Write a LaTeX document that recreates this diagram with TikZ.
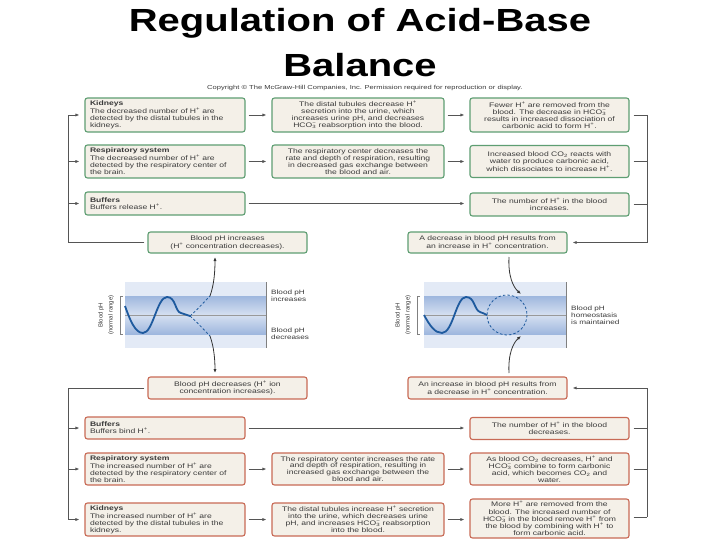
\documentclass[tikz,border=0pt]{standalone}
\usepackage{fontspec}
\setmainfont[FakeStretch=1.3]{Liberation Sans}
\newfontfamily\titlefont[FakeStretch=1.25]{Liberation Sans}
\newfontfamily\plainfont{Liberation Sans}
\usetikzlibrary{arrows.meta}
\definecolor{boxfill}{HTML}{F4F0E8}
\definecolor{gborder}{HTML}{5E9E72}
\definecolor{rborder}{HTML}{C86A55}
\definecolor{txt}{HTML}{3A3A3A}
\definecolor{linec}{HTML}{555555}
\definecolor{chartbg}{HTML}{E3EAF6}
\definecolor{banddark}{HTML}{9EB7DE}
\definecolor{bandlight}{HTML}{D6E0F1}
\definecolor{wavec}{HTML}{1E5A9E}
\newcommand\Hplus{H\textsuperscript{+}}
\newcommand\HCOminus{HCO\rlap{\textsubscript{3}}\textsuperscript{−}}
\tikzset{
  box/.style={draw, line width=1.1pt, rounded corners=2.5pt, fill=boxfill, text=txt,
    font=\fontsize{6.6}{6.9}\selectfont, inner xsep=5pt, inner ysep=2pt},
  gbox/.style={box, draw=gborder},
  rbox/.style={box, draw=rborder},
  leftbox/.style={text width=150pt, align=left},
  midbox/.style={align=center, minimum width=172pt},
  rightbox/.style={align=center, minimum width=159pt},
  cenbox/.style={align=center, minimum width=159pt},
  ln/.style={draw=linec, line width=0.8pt},
  arr/.style={ln, -{Latex[length=4pt,width=3.2pt]}},
  carr/.style={draw=black!80, line width=0.8pt, -{Latex[length=4pt,width=3.2pt]}},
  wave/.style={draw=wavec, line width=1.8pt},
  wdash/.style={draw=wavec, line width=0.8pt, dash pattern=on 2.5pt off 2pt},
  lbl/.style={text=txt, font=\fontsize{6.3}{7}\selectfont, align=left, inner sep=0pt},
  rot/.style={text=txt, font=\plainfont\fontsize{6}{10}\selectfont, align=center, rotate=90, inner sep=0pt},
}
\begin{document}
\begin{tikzpicture}[x=1pt,y=-1pt]
\fill[white] (0,0) rectangle (720,540);
\useasboundingbox (0,0) rectangle (720,540);

% title
\node[font=\titlefont\bfseries\fontsize{32}{36}\selectfont, anchor=base, inner sep=0] (t1) at (360,32) {Regulation of Acid-Base};
\node[font=\titlefont\bfseries\fontsize{32}{36}\selectfont, anchor=base, inner sep=0] (t2) at (360,77) {Balance};
\node[font=\fontsize{5.8}{6}\selectfont, anchor=west, text=txt, inner sep=0] (cp) at (207,88) {Copyright © The McGraw-Hill Companies, Inc. Permission required for reproduction or display.};

% ---------- top section ----------
\node[gbox, leftbox, minimum height=34pt] (k1) at (165,115) {\textbf{Kidneys}\\The decreased number of \Hplus{} are\\detected by the distal tubules in the\\kidneys.};
\node[gbox, midbox, minimum height=34pt] (d1) at (358,115) {The distal tubules decrease \Hplus\\secretion into the urine, which\\increases urine pH, and decreases\\\HCOminus{} reabsorption into the blood.};
\node[gbox, rightbox, minimum height=34pt] (f1) at (549.5,115) {Fewer \Hplus{} are removed from the\\blood. The decrease in \HCOminus\\results in increased dissociation of\\carbonic acid to form \Hplus.};

\node[gbox, leftbox, minimum height=33pt] (r1) at (165,161.5) {\textbf{Respiratory system}\\The decreased number of \Hplus{} are\\detected by the respiratory center of\\the brain.};
\node[gbox, midbox, minimum height=33pt] (rc1) at (358,161.5) {The respiratory center decreases the\\rate and depth of respiration, resulting\\in decreased gas exchange between\\the blood and air.};
\node[gbox, rightbox, minimum height=32pt] (c1) at (549.5,161.5) {Increased blood CO\textsubscript{2} reacts with\\water to produce carbonic acid,\\which dissociates to increase \Hplus.};

\node[gbox, leftbox, minimum height=23pt] (b1) at (165,203.5) {\textbf{Buffers}\\Buffers release \Hplus.};
\node[gbox, rightbox, minimum height=23pt] (n1) at (549.5,204.5) {The number of \Hplus{} in the blood\\increases.};

\node[gbox, cenbox, minimum height=21pt] (inc) at (227.5,242.5) {Blood pH increases\\(\Hplus{} concentration decreases).};
\node[gbox, cenbox, minimum height=21pt] (dec) at (487.5,242.5) {A decrease in blood pH results from\\an increase in \Hplus{} concentration.};

% top connectors
\draw[arr, shorten <=3pt, shorten >=5pt] (k1) -- (d1);
\draw[arr, shorten <=3pt, shorten >=5pt] (d1) -- (f1);
\draw[arr, shorten <=3pt, shorten >=5pt] (r1) -- (rc1);
\draw[arr, shorten <=3pt, shorten >=5pt] (rc1) -- (c1);
\draw[arr, shorten <=3pt, shorten >=5pt] (b1.east) -- (b1.east -| n1.west);

\coordinate (L1) at (68,115);
\draw[ln, shorten <=3pt] (inc.west) -| (L1);
\draw[arr, shorten >=5pt] (L1) -- (k1.west);
\draw[arr, shorten >=5pt] (L1 |- r1.west) -- (r1.west);
\draw[arr, shorten >=5pt] (L1 |- b1.west) -- (b1.west);

\coordinate (R1) at (647,115);
\draw[ln, shorten <=4pt] (f1.east) -- (R1);
\draw[ln, shorten <=4pt] (c1.east) -- (c1.east -| R1);
\draw[ln, shorten <=4pt] (n1.east) -- (n1.east -| R1);
\draw[arr, shorten >=5pt] (R1) |- (dec.east);

% ---------- charts ----------
% left chart
\fill[chartbg] (125,282) rectangle (266,348);
\shade[top color=banddark, bottom color=bandlight] (125,296) rectangle (266,315);
\shade[top color=bandlight, bottom color=banddark] (125,315) rectangle (266,334);
\draw[gray!80, line width=0.6pt] (125,315) -- (266,315);
\draw[gray, line width=0.8pt] (266,282) -- (266,348);
\draw[gray, line width=0.6pt] (123,296) -- (120,296) -- (120,334) -- (123,334);
\node[rot] (lrot) at (106,315) {Blood pH\\(normal range)};
\draw[wave] (125,306) .. controls (130,320) and (135,333) .. (143,333) .. controls (153,333) and (157,297) .. (167,297) .. controls (176,297) and (175,312) .. (181,313) .. controls (184,314) and (187,315) .. (190,316);
\coordinate (lu) at (210,296);
\coordinate (ld) at (210,336);
\draw[wdash] (190,316) .. controls (197,310) and (204,302) .. (lu);
\draw[wdash] (190,316) .. controls (197,322) and (204,330) .. (ld);
\coordinate (incA) at (215,257);
\coordinate (decA) at (215,373);
\draw[carr] (lu) .. controls (214,285) and (215,272) .. (incA);
\draw[carr] (ld) .. controls (214,347) and (215,360) .. (decA);
\node[lbl, anchor=west] (lbu) at (271,296) {Blood pH\\increases};
\node[lbl, anchor=west] (lbd) at (271,334) {Blood pH\\decreases};

% right chart
\fill[chartbg] (424,282) rectangle (566,348);
\shade[top color=banddark, bottom color=bandlight] (424,296) rectangle (566,315);
\shade[top color=bandlight, bottom color=banddark] (424,315) rectangle (566,334);
\draw[gray!80, line width=0.6pt] (424,315) -- (566,315);
\draw[gray, line width=0.8pt] (566,282) -- (566,348);
\draw[gray, line width=0.6pt] (420,296) -- (417,296) -- (417,334) -- (420,334);
\node[rot] (rrot) at (403,315) {Blood pH\\(normal range)};
\draw[wave] (424,315) .. controls (430,326) and (435,333) .. (442,333) .. controls (453,333) and (456,297) .. (466,297) .. controls (475,297) and (474,310) .. (480,312) .. controls (483,313) and (485,314) .. (487,315);
\draw[wdash] (507,315) circle (20);
\coordinate (dA) at (509,257);
\coordinate (dB) at (521,294);
\coordinate (iA) at (509,373);
\coordinate (iB) at (521,336);
\draw[carr] (dA) .. controls (508,276) and (513,287) .. (dB);
\draw[carr] (iA) .. controls (508,354) and (513,343) .. (iB);
\node[lbl, anchor=west] (lbh) at (571,315) {Blood pH\\homeostasis\\is maintained};

% ---------- bottom section ----------
\node[rbox, cenbox, minimum height=22pt] (dec2) at (227.5,388) {Blood pH decreases (\Hplus{} ion\\concentration increases).};
\node[rbox, cenbox, minimum height=22pt] (inc2) at (487.5,388) {An increase in blood pH results from\\a decrease in \Hplus{} concentration.};

\node[rbox, leftbox, minimum height=22pt] (b2) at (165,428) {\textbf{Buffers}\\Buffers bind \Hplus.};
\node[rbox, rightbox, minimum height=22pt] (n2) at (549.5,428.5) {The number of \Hplus{} in the blood\\decreases.};

\node[rbox, leftbox, minimum height=32pt] (r2) at (165,469) {\textbf{Respiratory system}\\The increased number of \Hplus{} are\\detected by the respiratory center of\\the brain.};
\node[rbox, midbox, minimum height=32pt] (rc2) at (358,469) {The respiratory center increases the rate\\and depth of respiration, resulting in\\increased gas exchange between the\\blood and air.};
\node[rbox, rightbox, minimum height=32pt] (c2) at (549.5,469) {As blood CO\textsubscript{2} decreases, \Hplus{} and\\\HCOminus{} combine to form carbonic\\acid, which becomes CO\textsubscript{2} and\\water.};

\node[rbox, leftbox, minimum height=33pt] (k2) at (165,519.5) {\textbf{Kidneys}\\The increased number of \Hplus{} are\\detected by the distal tubules in the\\kidneys.};
\node[rbox, midbox, minimum height=33pt] (d2) at (358,519.5) {The distal tubules increase \Hplus{} secretion\\into the urine, which decreases urine\\pH, and increases \HCOminus{} reabsorption\\into the blood.};
\node[rbox, rightbox, minimum height=39pt, font=\fontsize{6.6}{7.2}\selectfont] (m2) at (549.5,518.5) {More \Hplus{} are removed from the\\blood. The increased number of\\\HCOminus{} in the blood remove \Hplus{} from\\the blood by combining with \Hplus{} to\\form carbonic acid.};

% bottom connectors
\draw[arr, shorten <=3pt, shorten >=5pt] (b2.east) -- (b2.east -| n2.west);
\draw[arr, shorten <=3pt, shorten >=5pt] (r2) -- (rc2);
\draw[arr, shorten <=3pt, shorten >=5pt] (rc2) -- (c2);
\draw[arr, shorten <=3pt, shorten >=5pt] (k2) -- (d2);
\draw[arr, shorten <=3pt, shorten >=5pt] (d2.east) -- (d2.east -| m2.west);

\coordinate (L2) at (68,519.5);
\draw[ln, shorten <=3pt] (dec2.west) -| (L2);
\draw[arr, shorten >=5pt] (L2 |- b2.west) -- (b2.west);
\draw[arr, shorten >=5pt] (L2 |- r2.west) -- (r2.west);
\draw[arr, shorten >=5pt] (L2) -- (k2.west);

\coordinate (R2) at (647,517);
\draw[ln, shorten <=4pt] (n2.east) -- (n2.east -| R2);
\draw[ln, shorten <=4pt] (c2.east) -- (c2.east -| R2);
\draw[ln, shorten <=4pt] (m2.east |- R2) -- (R2);
\draw[arr, shorten >=5pt] (R2) |- (inc2.east);
\end{tikzpicture}
\end{document}
